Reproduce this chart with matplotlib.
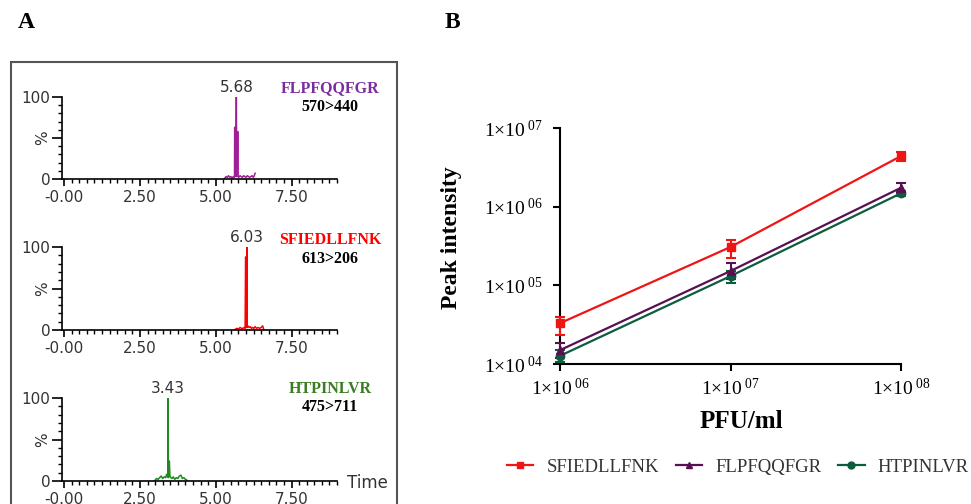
import matplotlib
matplotlib.use("Agg")
import matplotlib.pyplot as plt
from matplotlib.patches import Rectangle
from matplotlib.lines import Line2D
from matplotlib.ticker import MultipleLocator, NullLocator, FixedLocator

plt.rcParams['mathtext.fontset'] = 'custom'
plt.rcParams['mathtext.rm'] = 'Liberation Serif'
plt.rcParams['mathtext.it'] = 'Liberation Serif:italic'
plt.rcParams['mathtext.bf'] = 'Liberation Serif:bold'

# ---------------- Panel A data (chromatograms) ----------------
flp_time = [5.30, 5.34, 5.38, 5.42, 5.46, 5.50, 5.54, 5.58, 5.61, 5.62, 5.625, 5.645, 5.65,
            5.665, 5.68, 5.69, 5.70, 5.715, 5.725, 5.735, 5.76, 5.80, 5.84, 5.88, 5.92,
            5.96, 6.00, 6.04, 6.08, 6.12, 6.16, 6.20, 6.24, 6.27, 6.30]
flp_int = [1, 3, 2, 4, 2, 3, 1, 3, 2, 4, 63, 62, 3,
           4, 100, 3, 4, 5, 58, 3, 2, 4, 3, 2, 4,
           3, 2, 4, 3, 2, 3, 4, 2, 4, 7]

sfi_time = [5.65, 5.70, 5.75, 5.80, 5.85, 5.90, 5.94, 5.97, 5.985, 5.995, 6.005, 6.02,
            6.03, 6.04, 6.06, 6.10, 6.14, 6.18, 6.22, 6.26, 6.30, 6.35, 6.40, 6.45,
            6.50, 6.55, 6.58]
sfi_int = [1, 2, 1, 3, 2, 2, 3, 2, 88, 86, 3, 4,
           100, 3, 5, 3, 4, 2, 3, 2, 4, 2, 3, 2,
           3, 5, 1]

htp_time = [3.00, 3.05, 3.10, 3.15, 3.20, 3.25, 3.30, 3.35, 3.38, 3.40, 3.42, 3.43,
            3.44, 3.46, 3.47, 3.49, 3.52, 3.56, 3.60, 3.65, 3.70, 3.75, 3.80, 3.85,
            3.90, 3.95, 4.00, 4.05]
htp_int = [1, 3, 2, 4, 6, 3, 5, 4, 8, 6, 5, 100,
           4, 10, 24, 6, 4, 3, 5, 2, 4, 3, 6, 7,
           3, 4, 2, 1]

chrom_names = ["FLPFQQFGR", "SFIEDLLFNK", "HTPINLVR"]
chrom_trans = ["570>440", "613>206", "475>711"]
chrom_peaks = [5.68, 6.03, 3.43]
chrom_peak_labels = ["5.68", "6.03", "3.43"]
a_xtick_vals = [0.0, 2.5, 5.0, 7.5]
a_xtick_labels = ["-0.00", "2.50", "5.00", "7.50"]

# ---------------- Panel B data (calibration) ----------------
pfu = [1e6, 1e7, 1e8]
b_xtick_labels = [r"1×10$^{\ 06}$", r"1×10$^{\ 07}$", r"1×10$^{\ 08}$"]
b_yticks = [1e4, 1e5, 1e6, 1e7]
b_ytick_labels = [r"1×10$^{\ 04}$", r"1×10$^{\ 05}$", r"1×10$^{\ 06}$", r"1×10$^{\ 07}$"]

sfi_mean = [3.3e4, 3.07e5, 4.4e6]
sfi_lo = [0.95e4, 0.85e5, 0.6e6]
sfi_hi = [0.7e4, 0.7e5, 0.6e6]

flp_mean = [1.5e4, 1.52e5, 1.74e6]
flp_lo = [0.3e4, 0.3e5, 0.25e6]
flp_hi = [0.35e4, 0.38e5, 0.28e6]

htp_mean = [1.27e4, 1.31e5, 1.48e6]
htp_lo = [0.2e4, 0.23e5, 0.1e6]
htp_hi = [0.25e4, 0.2e5, 0.1e6]

W, H = 971, 504
fig = plt.figure(figsize=(W / 100, H / 100), dpi=100)


def rect(x0, y0, x1, y1):
    return [x0 / W, 1 - y1 / H, (x1 - x0) / W, (y1 - y0) / H]


def fpos(x, y):
    return (x / W, 1 - y / H)


# Panel letters
fig.text(*fpos(26, 23), "A", fontsize=17, fontweight='bold', family='Liberation Serif',
         ha='center', va='center')
fig.text(*fpos(452, 23), "B", fontsize=17, fontweight='bold', family='Liberation Serif',
         ha='center', va='center')

# Box around panel A
fig.patches.append(Rectangle(fpos(11, 520), 386 / W, 458 / H, transform=fig.transFigure,
                             fill=False, edgecolor='#555555', linewidth=1.5))

line_colors = ['#a01e96', '#ff0000', '#1f8a1f']
name_colors = ['#7a2e9e', '#ff0000', '#3a7d22']
datasets = [(flp_time, flp_int), (sfi_time, sfi_int), (htp_time, htp_int)]
a_rows = [(97, 179), (247, 330), (398, 481)]
name_y = [(88, 107), (240, 259), (389, 407)]

for i in range(3):
    top, bot = a_rows[i]
    ax = fig.add_axes(rect(62, top, 337, bot))
    t, v = datasets[i]
    ax.plot(t, v, color=line_colors[i], lw=1.1)
    ax.set_xlim(-0.07, 9.0)
    ax.set_ylim(0, 100)
    for s in ['top', 'right']:
        ax.spines[s].set_visible(False)
    for s in ['left', 'bottom']:
        ax.spines[s].set_linewidth(1.2)
    ax.set_xticks(a_xtick_vals)
    ax.set_xticklabels(a_xtick_labels)
    ax.xaxis.set_minor_locator(MultipleLocator(0.25))
    ax.set_yticks([0, 50, 100])
    ax.set_yticklabels(["0", "%", "100"])
    ax.get_yticklabels()[1].set_rotation(90)
    ax.get_yticklabels()[1].set_va('center')
    ax.yaxis.set_minor_locator(MultipleLocator(10))
    ax.tick_params(axis='both', which='major', direction='out', length=5, width=1.2,
                   labelsize=11, labelcolor='#333333', colors='black')
    ax.tick_params(axis='y', which='major', length=7, pad=1.5)
    ax.tick_params(axis='x', which='major', pad=3)
    ax.tick_params(axis='both', which='minor', direction='out', length=3, width=1.0)
    for lab in ax.get_xticklabels() + ax.get_yticklabels():
        lab.set_color('#333333')
    ax.annotate(chrom_peak_labels[i], xy=(chrom_peaks[i], 100), xytext=(0, 1.5),
                textcoords='offset points', ha='center', va='bottom', fontsize=11,
                color='#333333')
    fig.text(*fpos(330, name_y[i][0]), chrom_names[i], fontsize=11.5, fontweight='bold',
             family='Liberation Serif', color=name_colors[i], ha='center', va='center')
    fig.text(*fpos(330, name_y[i][1]), chrom_trans[i], fontsize=11.5, fontweight='bold',
             family='Liberation Serif', color='black', ha='center', va='center')
    ax.patch.set_alpha(0)

fig.text(*fpos(367, 483), "Time", fontsize=12, color='#333333', ha='center', va='center')

# ---------------- Panel B ----------------
axb = fig.add_axes(rect(560, 128, 901, 364))
b_colors = ['#ee1515', '#5a0f52', '#0b5e3d']
b_markers = ['s', '^', 'o']
b_names = ["SFIEDLLFNK", "FLPFQQFGR", "HTPINLVR"]
b_means = [sfi_mean, flp_mean, htp_mean]
b_errs = [(sfi_lo, sfi_hi), (flp_lo, flp_hi), (htp_lo, htp_hi)]

for idx in [2, 1, 0]:
    axb.errorbar(pfu, b_means[idx], yerr=[b_errs[idx][0], b_errs[idx][1]],
                 color=b_colors[idx], marker=b_markers[idx], markersize=6, lw=1.6,
                 elinewidth=1.5, capsize=3.5, capthick=1.5, clip_on=False, zorder=3)

axb.set_xscale('log')
axb.set_yscale('log')
axb.set_xlim(1e6, 1e8)
axb.set_ylim(1e4, 1e7)
for s in ['top', 'right']:
    axb.spines[s].set_visible(False)
for s in ['left', 'bottom']:
    axb.spines[s].set_linewidth(1.5)
axb.xaxis.set_major_locator(FixedLocator(pfu))
axb.xaxis.set_minor_locator(NullLocator())
axb.set_xticklabels(b_xtick_labels)
axb.yaxis.set_major_locator(FixedLocator(b_yticks))
axb.yaxis.set_minor_locator(NullLocator())
axb.set_yticklabels(b_ytick_labels)
axb.tick_params(axis='both', which='major', direction='out', length=5, width=1.5,
                labelsize=14)
axb.tick_params(axis='y', pad=7)
axb.tick_params(axis='x', pad=5)
for lab in axb.get_xticklabels() + axb.get_yticklabels():
    lab.set_family('Liberation Serif')

fig.text(*fpos(451, 238), "Peak intensity", fontsize=17, fontweight='bold',
         family='Liberation Serif', rotation=90, ha='center', va='center')
fig.text(*fpos(741, 421), "PFU/ml", fontsize=18, fontweight='bold',
         family='Liberation Serif', ha='center', va='center')

handles = [Line2D([], [], color=b_colors[k], marker=b_markers[k], markersize=5, lw=1.6)
           for k in range(3)]
fig.legend(handles, b_names, loc='center', bbox_to_anchor=fpos(738, 467), ncol=3,
           frameon=False, prop={'family': 'Liberation Serif', 'size': 13.5},
           labelcolor='#333333', handlelength=1.4, handletextpad=0.7, columnspacing=0.9,
           borderpad=0, borderaxespad=0)

fig.savefig("out.png", dpi=100)
